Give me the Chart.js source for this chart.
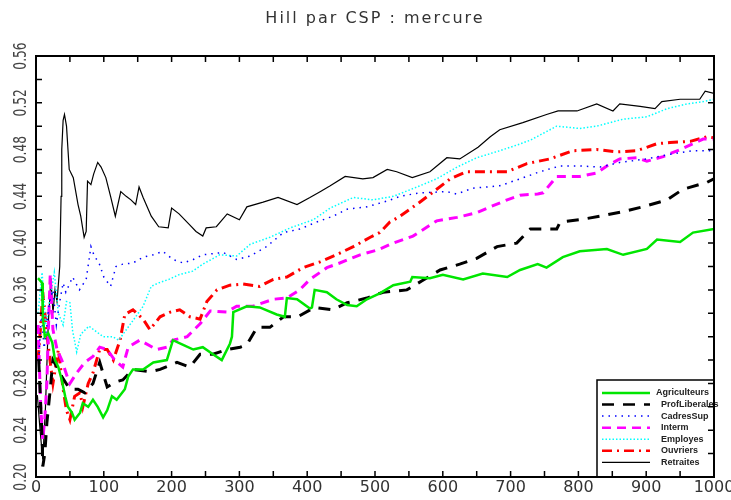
<!DOCTYPE html>
<html>
<head>
<meta charset="utf-8">
<script src="https://cdn.jsdelivr.net/npm/chart.js@4.4.1/dist/chart.umd.min.js"></script>
<style>
  html, body { margin: 0; padding: 0; background: #fff; }
</style>
</head>
<body>
<canvas id="hillChart" width="731" height="500"></canvas>
<script>
// values, [rank, hill estimate]
const agriculteurs = [[3,0.37],[9,0.366],[10,0.337],[13,0.32],[18,0.323],[24,0.315],[28,0.30],[33,0.294],[38,0.283],[43,0.269],[47,0.26],[53,0.255],[57,0.249],[65,0.255],[69,0.263],[77,0.26],[84,0.266],[91,0.26],[99,0.251],[105,0.257],[112,0.269],[119,0.266],[131,0.275],[136,0.286],[143,0.292],[158,0.292],[173,0.298],[193,0.30],[202,0.317],[217,0.313],[232,0.309],[246,0.311],[261,0.305],[274,0.30],[286,0.314],[289,0.32],[291,0.341],[311,0.346],[330,0.345],[355,0.339],[367,0.337],[370,0.353],[385,0.352],[404,0.344],[407,0.345],[411,0.36],[429,0.358],[443,0.352],[459,0.347],[473,0.346],[488,0.352],[507,0.357],[527,0.364],[552,0.367],[555,0.371],[581,0.37],[600,0.373],[630,0.369],[659,0.374],[695,0.371],[714,0.377],[740,0.382],[753,0.379],[777,0.388],[802,0.393],[842,0.395],[866,0.39],[901,0.395],[916,0.403],[950,0.401],[969,0.409],[1000,0.412]];
const profLiberales = [[4,0.30],[7,0.26],[9,0.234],[10,0.209],[13,0.22],[16,0.246],[21,0.275],[25,0.30],[33,0.292],[38,0.286],[50,0.275],[62,0.275],[72,0.272],[84,0.28],[94,0.298],[105,0.277],[116,0.281],[128,0.283],[143,0.292],[168,0.29],[183,0.292],[208,0.298],[227,0.294],[242,0.305],[261,0.305],[282,0.309],[301,0.311],[311,0.313],[326,0.328],[345,0.328],[365,0.337],[386,0.337],[411,0.345],[438,0.343],[459,0.349],[488,0.353],[512,0.358],[547,0.36],[570,0.368],[596,0.377],[625,0.382],[650,0.387],[680,0.397],[709,0.40],[729,0.412],[768,0.412],[773,0.418],[802,0.42],[832,0.423],[866,0.427],[895,0.431],[931,0.437],[954,0.446],[990,0.452],[1000,0.455]];
const cadresSup = [[4,0.30],[8,0.34],[12,0.31],[16,0.33],[20,0.35],[25,0.36],[30,0.33],[35,0.35],[40,0.366],[44,0.358],[54,0.371],[64,0.36],[74,0.369],[81,0.397],[86,0.389],[93,0.383],[100,0.371],[110,0.363],[118,0.38],[128,0.382],[143,0.383],[158,0.388],[173,0.39],[187,0.393],[202,0.386],[217,0.383],[232,0.386],[246,0.39],[276,0.392],[296,0.386],[316,0.389],[340,0.397],[365,0.409],[389,0.412],[414,0.418],[438,0.423],[459,0.429],[488,0.431],[518,0.436],[537,0.44],[566,0.443],[606,0.444],[620,0.442],[645,0.447],[684,0.449],[714,0.455],[743,0.461],[773,0.466],[802,0.466],[832,0.465],[861,0.469],[901,0.472],[935,0.476],[969,0.479],[1000,0.479]];
const interm = [[3,0.33],[7,0.26],[10,0.232],[13,0.25],[16,0.28],[19,0.34],[21,0.373],[25,0.326],[31,0.309],[38,0.30],[46,0.286],[50,0.28],[60,0.289],[72,0.298],[84,0.303],[94,0.311],[105,0.309],[116,0.30],[128,0.294],[136,0.311],[153,0.317],[178,0.309],[193,0.311],[202,0.317],[223,0.32],[242,0.331],[257,0.342],[281,0.341],[296,0.346],[320,0.346],[350,0.352],[370,0.353],[389,0.36],[404,0.369],[429,0.379],[448,0.383],[478,0.39],[503,0.394],[527,0.40],[556,0.406],[591,0.419],[621,0.422],[650,0.426],[670,0.431],[695,0.437],[714,0.441],[740,0.442],[748,0.443],[761,0.452],[768,0.457],[802,0.457],[827,0.46],[842,0.466],[861,0.472],[886,0.473],[901,0.47],[925,0.474],[950,0.48],[969,0.485],[984,0.489],[1000,0.489]];
const employes = [[3,0.34],[9,0.375],[14,0.33],[20,0.35],[27,0.375],[33,0.34],[40,0.33],[45,0.35],[50,0.349],[54,0.325],[60,0.307],[66,0.322],[78,0.329],[85,0.326],[99,0.32],[113,0.32],[122,0.317],[137,0.329],[147,0.337],[158,0.346],[165,0.356],[170,0.363],[181,0.366],[196,0.369],[211,0.373],[231,0.376],[246,0.382],[271,0.39],[296,0.389],[316,0.399],[345,0.405],[375,0.413],[409,0.42],[434,0.43],[468,0.439],[497,0.437],[527,0.44],[562,0.448],[591,0.455],[621,0.465],[650,0.473],[684,0.479],[710,0.484],[729,0.488],[768,0.50],[802,0.498],[827,0.50],[866,0.506],[901,0.508],[931,0.515],[960,0.519],[984,0.521],[1000,0.523]];
const ouvriers = [[3,0.30],[7,0.33],[10,0.358],[16,0.323],[21,0.298],[25,0.28],[33,0.309],[40,0.275],[45,0.257],[50,0.249],[57,0.269],[65,0.272],[69,0.26],[77,0.28],[84,0.289],[94,0.309],[105,0.309],[114,0.30],[124,0.317],[131,0.339],[143,0.343],[158,0.335],[168,0.326],[183,0.337],[198,0.341],[212,0.343],[227,0.337],[242,0.335],[252,0.35],[267,0.36],[286,0.364],[305,0.365],[330,0.363],[350,0.369],[370,0.371],[394,0.379],[419,0.384],[443,0.39],[468,0.397],[493,0.405],[507,0.409],[522,0.418],[537,0.423],[566,0.435],[591,0.446],[611,0.455],[635,0.461],[665,0.461],[695,0.461],[724,0.468],[758,0.472],[792,0.479],[827,0.48],[857,0.478],[886,0.479],[916,0.485],[935,0.486],[965,0.487],[990,0.491],[1000,0.49]];
const retraites = [[2,0.27],[6,0.24],[10,0.215],[14,0.26],[18,0.33],[22,0.37],[25,0.34],[28,0.36],[31,0.35],[35,0.38],[37,0.44],[38,0.48],[40,0.505],[42,0.51],[45,0.50],[49,0.463],[55,0.456],[62,0.433],[66,0.423],[71,0.405],[74,0.41],[76,0.453],[81,0.45],[85,0.459],[91,0.469],[96,0.465],[103,0.456],[110,0.44],[117,0.423],[125,0.444],[133,0.44],[140,0.437],[147,0.433],[152,0.448],[158,0.439],[170,0.423],[181,0.414],[195,0.413],[200,0.43],[211,0.425],[226,0.416],[236,0.41],[246,0.406],[251,0.413],[266,0.414],[282,0.425],[300,0.42],[311,0.431],[335,0.435],[357,0.439],[385,0.433],[404,0.439],[419,0.444],[434,0.449],[456,0.457],[482,0.455],[497,0.456],[518,0.463],[532,0.461],[555,0.456],[581,0.461],[606,0.473],[625,0.472],[652,0.482],[670,0.491],[684,0.497],[718,0.503],[753,0.51],[770,0.513],[798,0.513],[827,0.519],[851,0.513],[861,0.519],[891,0.517],[913,0.515],[923,0.521],[950,0.523],[979,0.523],[987,0.53],[1000,0.528]];

const seriesNames = ['Agriculteurs', 'ProfLiberales', 'CadresSup', 'Interm', 'Employes', 'Ouvriers', 'Retraites'];
const seriesData = [agriculteurs, profLiberales, cadresSup, interm, employes, ouvriers, retraites];
const seriesColors = ['#00e600', '#000000', '#0000ff', '#ff00ff', '#00ffff', '#ff0000', '#000000'];
const seriesWidths = [2.5, 3, 1.5, 3, 1.5, 3, 1.2];
const seriesDashes = [[], [12, 9], [1.5, 5], [9, 6], [1.5, 2], [10, 5, 2, 5], []];

const xMin = 0, xMax = 1000, xStep = 50;
const yMin = 0.20, yMax = 0.56, yStep = 0.02;
const titleText = 'Hill par CSP : mercure';

const datasets = seriesNames.map((name, i) => ({
  label: name,
  data: seriesData[i].map(([x, y]) => ({ x, y })),
  borderColor: seriesColors[i],
  borderWidth: seriesWidths[i],
  borderDash: seriesDashes[i],
  pointRadius: 0,
  tension: 0,
  fill: false,
}));

// frame, inward ticks, rotated y labels, title and boxed legend
const decorations = {
  id: 'decorations',
  afterDatasetsDraw(chart) {
    const ctx = chart.ctx;
    const left = 597, top = 380, right = chart.chartArea.right, bottom = chart.chartArea.bottom;
    ctx.save();
    ctx.fillStyle = '#fff';
    ctx.fillRect(left, top, right - left, bottom - top);
    ctx.strokeStyle = '#000';
    ctx.lineWidth = 1.5;
    ctx.strokeRect(left, top, right - left, bottom - top);
    ctx.font = 'bold 9px "Liberation Sans"';
    ctx.textBaseline = 'middle';
    seriesNames.forEach((name, i) => {
      const y = 393 + i * 11.55;
      ctx.beginPath();
      ctx.strokeStyle = seriesColors[i];
      ctx.lineWidth = Math.min(seriesWidths[i], 2.5);
      ctx.setLineDash(seriesDashes[i]);
      ctx.moveTo(602, y);
      ctx.lineTo(650, y);
      ctx.stroke();
      ctx.setLineDash([]);
      ctx.fillStyle = '#222';
      ctx.fillText(name, i === 0 ? 656 : 661, y);
    });
    ctx.restore();
  },
  afterDraw(chart) {
    const ctx = chart.ctx;
    const area = chart.chartArea;
    const xs = chart.scales.x, ys = chart.scales.y;
    ctx.save();
    ctx.strokeStyle = '#000';
    ctx.lineWidth = 2;
    ctx.strokeRect(area.left, area.top, area.right - area.left, area.bottom - area.top);
    ctx.lineWidth = 1.5;
    ctx.beginPath();
    xs.ticks.forEach(t => {
      const px = xs.getPixelForValue(t.value);
      ctx.moveTo(px, area.bottom); ctx.lineTo(px, area.bottom - 6);
      ctx.moveTo(px, area.top); ctx.lineTo(px, area.top + 6);
    });
    ys.ticks.forEach(t => {
      const py = ys.getPixelForValue(t.value);
      ctx.moveTo(area.left, py); ctx.lineTo(area.left + 6, py);
      ctx.moveTo(area.right, py); ctx.lineTo(area.right - 6, py);
    });
    ctx.stroke();

    ctx.fillStyle = '#444';
    ctx.font = '17px "DejaVu Sans"';
    ctx.textAlign = 'center';
    ctx.textBaseline = 'middle';
    ys.ticks.forEach(t => {
      const step = Math.round(t.value * 100);
      if (step % 4 !== 0) return;
      ctx.save();
      ctx.translate(22, ys.getPixelForValue(t.value));
      ctx.rotate(-Math.PI / 2);
      ctx.scale(0.72, 1);
      ctx.fillText(t.value.toFixed(2), 0, 0);
      ctx.restore();
    });

    ctx.fillStyle = '#333';
    ctx.font = '16px "DejaVu Sans"';
    ctx.letterSpacing = '2px';
    ctx.fillText(titleText, (area.left + area.right) / 2, 19);
    ctx.restore();
  }
};

new Chart(document.getElementById('hillChart'), {
  type: 'line',
  data: { datasets },
  plugins: [decorations],
  options: {
    responsive: false,
    animation: false,
    layout: { padding: { top: 56, right: 17, left: 0, bottom: 0 } },
    plugins: {
      legend: { display: false },
      title: { display: false },
      tooltip: { enabled: false },
    },
    scales: {
      x: {
        type: 'linear',
        min: xMin,
        max: xMax,
        grid: { display: false, drawTicks: false },
        border: { display: false },
        ticks: {
          stepSize: xStep,
          autoSkip: false,
          maxRotation: 0,
          padding: 1,
          color: '#333',
          font: { family: 'DejaVu Sans', size: 16 },
          callback: (v) => (v % 100 === 0 ? String(v) : ''),
        },
        afterFit: (s) => { s.height = 23; s.paddingLeft = 0; s.paddingRight = 0; },
      },
      y: {
        type: 'linear',
        min: yMin,
        max: yMax,
        grid: { display: false, drawTicks: false },
        border: { display: false },
        ticks: { display: false, stepSize: yStep },
        afterFit: (s) => { s.width = 36; s.paddingTop = 0; s.paddingBottom = 0; },
      },
    },
  },
});
</script>
</body>
</html>
